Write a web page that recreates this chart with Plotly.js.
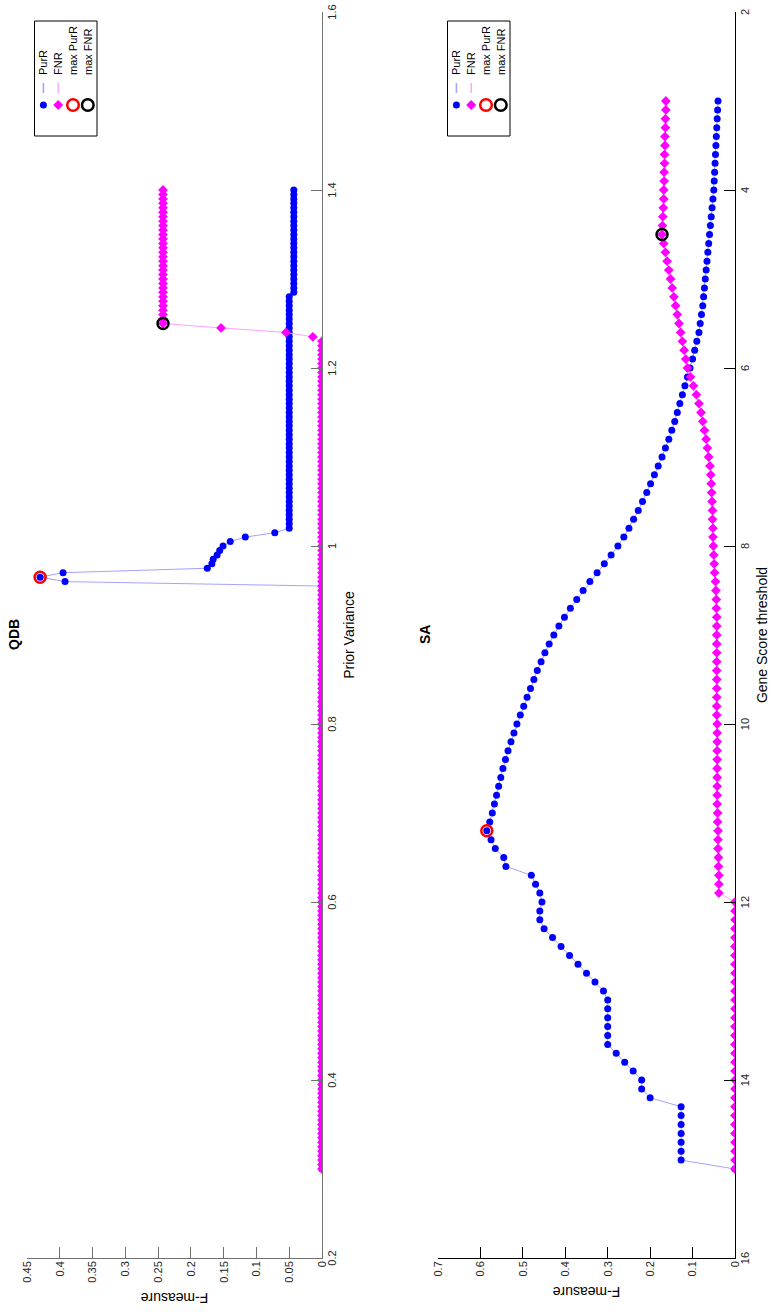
<!DOCTYPE html>
<html>
<head>
<meta charset="utf-8">
<script src="https://cdn.plot.ly/plotly-3.0.1.min.js"></script>
<style>
  html, body { margin: 0; padding: 0; background: #fff; overflow: hidden; width: 771px; height: 1312px; }
  /* the figure is laid out landscape and turned a quarter turn counter-clockwise */
  #fig { position: absolute; left: 0; top: 0; width: 1312px; height: 771px;
         transform-origin: 0 0; transform: translate(0px, 1312px) rotate(-90deg); }
</style>
</head>
<body>
<div id="fig"></div>
<script>
// ---------------- QDB: F-measure against prior variance ----------------
const priorVar = [
  0.300,0.305,0.310,0.315,0.320,0.325,0.330,0.335,0.340,0.345,
  0.350,0.355,0.360,0.365,0.370,0.375,0.380,0.385,0.390,0.395,
  0.400,0.405,0.410,0.415,0.420,0.425,0.430,0.435,0.440,0.445,
  0.450,0.455,0.460,0.465,0.470,0.475,0.480,0.485,0.490,0.495,
  0.500,0.505,0.510,0.515,0.520,0.525,0.530,0.535,0.540,0.545,
  0.550,0.555,0.560,0.565,0.570,0.575,0.580,0.585,0.590,0.595,
  0.600,0.605,0.610,0.615,0.620,0.625,0.630,0.635,0.640,0.645,
  0.650,0.655,0.660,0.665,0.670,0.675,0.680,0.685,0.690,0.695,
  0.700,0.705,0.710,0.715,0.720,0.725,0.730,0.735,0.740,0.745,
  0.750,0.755,0.760,0.765,0.770,0.775,0.780,0.785,0.790,0.795,
  0.800,0.805,0.810,0.815,0.820,0.825,0.830,0.835,0.840,0.845,
  0.850,0.855,0.860,0.865,0.870,0.875,0.880,0.885,0.890,0.895,
  0.900,0.905,0.910,0.915,0.920,0.925,0.930,0.935,0.940,0.945,
  0.950,0.955,0.960,0.965,0.970,0.975,0.980,0.985,0.990,0.995,
  1.000,1.005,1.010,1.015,1.020,1.025,1.030,1.035,1.040,1.045,
  1.050,1.055,1.060,1.065,1.070,1.075,1.080,1.085,1.090,1.095,
  1.100,1.105,1.110,1.115,1.120,1.125,1.130,1.135,1.140,1.145,
  1.150,1.155,1.160,1.165,1.170,1.175,1.180,1.185,1.190,1.195,
  1.200,1.205,1.210,1.215,1.220,1.225,1.230,1.235,1.240,1.245,
  1.250,1.255,1.260,1.265,1.270,1.275,1.280,1.285,1.290,1.295,
  1.300,1.305,1.310,1.315,1.320,1.325,1.330,1.335,1.340,1.345,
  1.350,1.355,1.360,1.365,1.370,1.375,1.380,1.385,1.390,1.395,
  1.400
];
const qdbPurR = [
  0,0,0,0,0,0,0,0,0,0,
  0,0,0,0,0,0,0,0,0,0,
  0,0,0,0,0,0,0,0,0,0,
  0,0,0,0,0,0,0,0,0,0,
  0,0,0,0,0,0,0,0,0,0,
  0,0,0,0,0,0,0,0,0,0,
  0,0,0,0,0,0,0,0,0,0,
  0,0,0,0,0,0,0,0,0,0,
  0,0,0,0,0,0,0,0,0,0,
  0,0,0,0,0,0,0,0,0,0,
  0,0,0,0,0,0,0,0,0,0,
  0,0,0,0,0,0,0,0,0,0,
  0,0,0,0,0,0,0,0,0,0,
  0,0,0.392,0.430,0.395,0.175,0.168,0.166,0.160,0.156,
  0.151,0.140,0.117,0.072,0.050,0.050,0.050,0.050,0.050,0.050,
  0.050,0.050,0.050,0.050,0.050,0.050,0.050,0.050,0.050,0.050,
  0.050,0.050,0.050,0.050,0.050,0.050,0.050,0.050,0.050,0.050,
  0.050,0.050,0.050,0.050,0.050,0.050,0.050,0.050,0.050,0.050,
  0.050,0.050,0.050,0.050,0.050,0.050,0.050,0.050,0.050,0.050,
  0.050,0.050,0.050,0.050,0.050,0.050,0.050,0.043,0.043,0.043,
  0.043,0.043,0.043,0.043,0.043,0.043,0.043,0.043,0.043,0.043,
  0.043,0.043,0.043,0.043,0.043,0.043,0.043,0.043,0.043,0.043,
  0.043
];
const qdbFNR = [
  0,0,0,0,0,0,0,0,0,0,
  0,0,0,0,0,0,0,0,0,0,
  0,0,0,0,0,0,0,0,0,0,
  0,0,0,0,0,0,0,0,0,0,
  0,0,0,0,0,0,0,0,0,0,
  0,0,0,0,0,0,0,0,0,0,
  0,0,0,0,0,0,0,0,0,0,
  0,0,0,0,0,0,0,0,0,0,
  0,0,0,0,0,0,0,0,0,0,
  0,0,0,0,0,0,0,0,0,0,
  0,0,0,0,0,0,0,0,0,0,
  0,0,0,0,0,0,0,0,0,0,
  0,0,0,0,0,0,0,0,0,0,
  0,0,0,0,0,0,0,0,0,0,
  0,0,0,0,0,0,0,0,0,0,
  0,0,0,0,0,0,0,0,0,0,
  0,0,0,0,0,0,0,0,0,0,
  0,0,0,0,0,0,0,0,0,0,
  0,0,0,0,0,0,0,0.014,0.055,0.154,
  0.2425,0.2425,0.2425,0.2425,0.2425,0.2425,0.2425,0.2425,0.2425,0.2425,
  0.2425,0.2425,0.2425,0.2425,0.2425,0.2425,0.2425,0.2425,0.2425,0.2425,
  0.2425,0.2425,0.2425,0.2425,0.2425,0.2425,0.2425,0.2425,0.2425,0.2425,
  0.2425
];

// ---------------- SA: F-measure against gene score threshold ----------------
const geneThr = [
  3.0,3.1,3.2,3.3,3.4,3.5,3.6,3.7,3.8,3.9,
  4.0,4.1,4.2,4.3,4.4,4.5,4.6,4.7,4.8,4.9,
  5.0,5.1,5.2,5.3,5.4,5.5,5.6,5.7,5.8,5.9,
  6.0,6.1,6.2,6.3,6.4,6.5,6.6,6.7,6.8,6.9,
  7.0,7.1,7.2,7.3,7.4,7.5,7.6,7.7,7.8,7.9,
  8.0,8.1,8.2,8.3,8.4,8.5,8.6,8.7,8.8,8.9,
  9.0,9.1,9.2,9.3,9.4,9.5,9.6,9.7,9.8,9.9,
  10.0,10.1,10.2,10.3,10.4,10.5,10.6,10.7,10.8,10.9,
  11.0,11.1,11.2,11.3,11.4,11.5,11.6,11.7,11.8,11.9,
  12.0,12.1,12.2,12.3,12.4,12.5,12.6,12.7,12.8,12.9,
  13.0,13.1,13.2,13.3,13.4,13.5,13.6,13.7,13.8,13.9,
  14.0,14.1,14.2,14.3,14.4,14.5,14.6,14.7,14.8,14.9,
  15.0
];
const saPurR = [
  0.040,0.041,0.042,0.043,0.044,0.045,0.046,0.047,0.048,0.049,
  0.050,0.052,0.054,0.056,0.058,0.060,0.062,0.064,0.066,0.068,
  0.070,0.072,0.074,0.076,0.079,0.082,0.085,0.090,0.095,0.100,
  0.106,0.112,0.118,0.124,0.130,0.136,0.142,0.149,0.156,0.164,
  0.172,0.181,0.190,0.199,0.208,0.218,0.228,0.239,0.250,0.262,
  0.276,0.292,0.308,0.325,0.342,0.358,0.373,0.388,0.402,0.415,
  0.427,0.438,0.448,0.457,0.466,0.474,0.482,0.490,0.498,0.506,
  0.514,0.521,0.528,0.535,0.541,0.547,0.552,0.557,0.562,0.567,
  0.572,0.578,0.585,0.575,0.565,0.545,0.540,0.480,0.470,0.460,
  0.455,0.460,0.460,0.450,0.430,0.410,0.390,0.370,0.350,0.330,
  0.310,0.300,0.300,0.300,0.300,0.300,0.300,0.280,0.260,0.240,
  0.220,0.220,0.200,0.127,0.127,0.127,0.127,0.127,0.127,0.127,
  0
];
const saFNR = [
  0.163,0.163,0.164,0.164,0.165,0.165,0.166,0.166,0.167,0.167,
  0.168,0.168,0.169,0.170,0.171,0.172,0.168,0.164,0.160,0.156,
  0.152,0.148,0.144,0.140,0.136,0.132,0.128,0.124,0.120,0.116,
  0.112,0.105,0.098,0.091,0.085,0.080,0.076,0.072,0.068,0.065,
  0.062,0.059,0.057,0.056,0.055,0.054,0.053,0.053,0.052,0.052,
  0.051,0.050,0.049,0.048,0.046,0.045,0.044,0.044,0.043,0.043,
  0.043,0.043,0.043,0.043,0.043,0.043,0.043,0.043,0.043,0.043,
  0.042,0.042,0.042,0.042,0.042,0.042,0.042,0.042,0.042,0.042,
  0.041,0.041,0.040,0.040,0.040,0.039,0.039,0.038,0.038,0.038,
  0,0,0,0,0,0,0,0,0,0,
  0,0,0,0,0,0,0,0,0,0,
  0,0,0,0,0,0,0,0,0,0,
  0
];

// axis ticks
const priorVarTicks = [0.2,0.4,0.6,0.8,1,1.2,1.4,1.6];
const qdbFTicks = [0,0.05,0.1,0.15,0.2,0.25,0.3,0.35,0.4,0.45];
const geneThrTicks = [2,4,6,8,10,12,14,16];
const saFTicks = [0,0.1,0.2,0.3,0.4,0.5,0.6,0.7];

const seriesNames = ['PurR', 'FNR', 'max PurR', 'max FNR'];

const FONT = '"Liberation Sans", Arial, Helvetica, sans-serif';
const W = 1312, H = 771;

const PUR_LINE = '#a3a3ff', PUR_MARK = '#0000ff';
const FNR_LINE = '#ffa3ff', FNR_MARK = '#ff00ff';

function argMax(a) { let k = 0; a.forEach((v, i) => { if (v > a[k]) k = i; }); return k; }

function panel(x, y1, y2, xa, ya) {
  const i1 = argMax(y1), i2 = argMax(y2);
  return [
    { x: x, y: y1, name: seriesNames[0], xaxis: xa, yaxis: ya, type: 'scatter', mode: 'lines+markers',
      line: { color: PUR_LINE, width: 1 }, marker: { color: PUR_MARK, size: 7, symbol: 'circle' } },
    { x: x, y: y2, name: seriesNames[1], xaxis: xa, yaxis: ya, type: 'scatter', mode: 'lines+markers',
      line: { color: FNR_LINE, width: 1 }, marker: { color: FNR_MARK, size: 7.5, symbol: 'diamond' } },
    { x: [x[i1]], y: [y1[i1]], name: seriesNames[2], xaxis: xa, yaxis: ya, type: 'scatter', mode: 'markers',
      marker: { color: '#ff0000', size: 11, symbol: 'circle-open', line: { width: 2.5, color: '#ff0000' } } },
    { x: [x[i2]], y: [y2[i2]], name: seriesNames[3], xaxis: xa, yaxis: ya, type: 'scatter', mode: 'markers',
      marker: { color: '#000000', size: 11, symbol: 'circle-open', line: { width: 2.5, color: '#000000' } } }
  ];
}

const data = [].concat(
  panel(priorVar, qdbPurR, qdbFNR, 'x', 'y'),
  panel(geneThr, saPurR, saFNR, 'x2', 'y2')
);

// pixel -> paper helpers for the legend boxes
const px = v => v / W;
const py = v => 1 - v / H;

const shapes = [], annotations = [];

// legend box with one row per series; top = pixel row of the box's upper edge
function addLegend(top) {
  const left = 1176, right = 1291, bottom = top + 62.5;
  shapes.push({ type: 'rect', xref: 'paper', yref: 'paper', x0: px(left), x1: px(right), y0: py(top), y1: py(bottom),
    line: { color: '#000000', width: 1 }, fillcolor: '#ffffff', layer: 'above' });
  const rows = [top + 8.9, top + 23.7, top + 38.5, top + 53.3];
  const mx = 1207, tx = 1235;
  // PurR: filled dot + line sample
  shapes.push({ type: 'circle', xref: 'paper', yref: 'paper', x0: px(mx - 3.5), x1: px(mx + 3.5),
    y0: py(rows[0] - 3.5), y1: py(rows[0] + 3.5), fillcolor: PUR_MARK, line: { width: 0 }, layer: 'above' });
  shapes.push({ type: 'line', xref: 'paper', yref: 'paper', x0: px(1219), x1: px(1229), y0: py(rows[0]), y1: py(rows[0]),
    line: { color: PUR_LINE, width: 1.5 }, layer: 'above' });
  // FNR: diamond + line sample
  const d = 5, r1 = rows[1];
  shapes.push({ type: 'path', xref: 'paper', yref: 'paper',
    path: `M${px(mx - d)},${py(r1)} L${px(mx)},${py(r1 - d)} L${px(mx + d)},${py(r1)} L${px(mx)},${py(r1 + d)} Z`,
    fillcolor: FNR_MARK, line: { width: 0 }, layer: 'above' });
  shapes.push({ type: 'line', xref: 'paper', yref: 'paper', x0: px(1219), x1: px(1229), y0: py(r1), y1: py(r1),
    line: { color: FNR_LINE, width: 1.5 }, layer: 'above' });
  // max markers: open rings
  [['#ff0000', rows[2]], ['#000000', rows[3]]].forEach(([c, r]) => {
    shapes.push({ type: 'circle', xref: 'paper', yref: 'paper', x0: px(mx - 5.8), x1: px(mx + 5.8),
      y0: py(r - 5.8), y1: py(r + 5.8), line: { color: c, width: 2.5 }, fillcolor: 'rgba(0,0,0,0)', layer: 'above' });
  });
  seriesNames.forEach((s, i) => annotations.push({
    text: s, xref: 'paper', yref: 'paper', x: px(tx), y: py(rows[i]), xanchor: 'left', yanchor: 'middle',
    showarrow: false, font: { family: FONT, size: 11, color: '#000000' }
  }));
}
addLegend(34.5);
addLegend(447.5);

annotations.push(
  { text: '<b>QDB</b>', xref: 'paper', yref: 'paper', x: px(677), y: py(14), xanchor: 'center', yanchor: 'middle',
    showarrow: false, font: { family: FONT, size: 14, color: '#000' } },
  { text: '<b>SA</b>', xref: 'paper', yref: 'paper', x: px(677), y: py(425), xanchor: 'center', yanchor: 'middle',
    showarrow: false, font: { family: FONT, size: 14, color: '#000' } }
);

function axis(extra, col) {
  return Object.assign({
    showgrid: false, zeroline: false, showline: true, linecolor: col, linewidth: 1,
    ticks: 'inside', ticklen: 11, tickwidth: 1, tickcolor: col, mirror: false,
    tickfont: { family: FONT, size: 11, color: '#262626' }, automargin: false, fixedrange: true
  }, extra);
}
const titleFont = { family: FONT, size: 14, color: '#000' };

const layout = {
  width: W, height: H, margin: { l: 0, r: 0, t: 0, b: 0 },
  paper_bgcolor: '#ffffff', plot_bgcolor: '#ffffff', showlegend: false,
  font: { family: FONT, color: '#000000' },
  xaxis: axis({ domain: [px(54), px(1300)], range: [0.2, 1.6], tickvals: priorVarTicks, anchor: 'y',
    title: { text: 'Prior Variance', font: titleFont, standoff: 6 } }, '#707070'),
  yaxis: axis({ domain: [py(322), py(27)], range: [0, 0.45], tickvals: qdbFTicks, anchor: 'x',
    title: { text: 'F-measure', font: titleFont, standoff: 6 } }, '#707070'),
  xaxis2: axis({ domain: [px(54), px(1300)], range: [16, 2], tickvals: geneThrTicks, anchor: 'y2',
    title: { text: 'Gene Score threshold', font: titleFont, standoff: 6 } }, '#000000'),
  yaxis2: axis({ domain: [py(735), py(438)], range: [0, 0.7], tickvals: saFTicks, anchor: 'x2',
    title: { text: 'F-measure', font: titleFont, standoff: 6 } }, '#000000'),
  shapes: shapes,
  annotations: annotations
};

Plotly.newPlot('fig', data, layout, { staticPlot: true, displayModeBar: false });
</script>
</body>
</html>
